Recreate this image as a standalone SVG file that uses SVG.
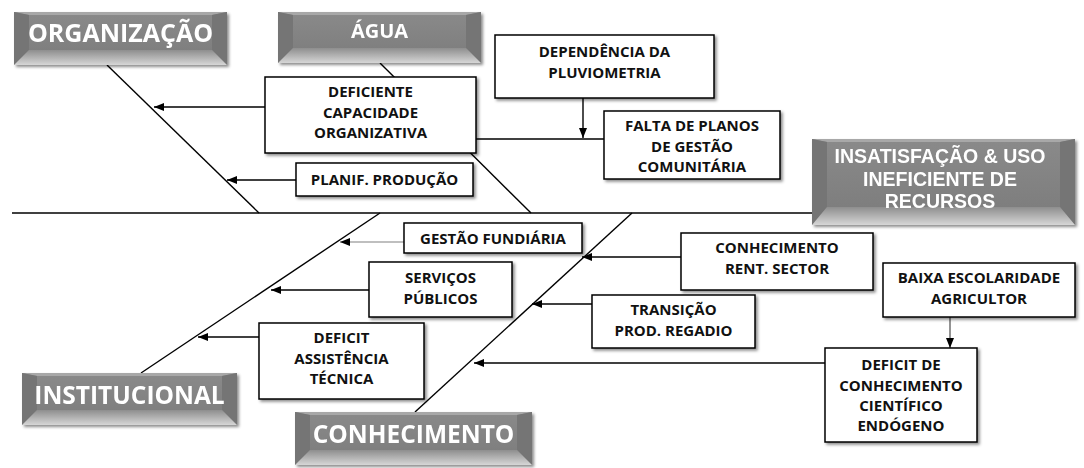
<svg xmlns="http://www.w3.org/2000/svg" width="1084" height="468" viewBox="0 0 1084 468">
<defs>
<style>
.node rect{fill:#fff;stroke:#000;stroke-width:1.5}
.node text{font-family:"Open Sans","Liberation Sans",sans-serif;font-weight:700;font-size:15px;fill:#111;text-anchor:middle}
.cat text{font-family:"Open Sans","Liberation Sans",sans-serif;font-weight:700;fill:#fff;text-anchor:middle}
.cat .c{fill:url(#gCenter)}
.cat .s{fill:#747474}
.cat .t{fill:#a8a8a8}
.cat .b{fill:url(#gBottom)}
.ln{stroke:#000;stroke-width:1.4;fill:none}
.arr{stroke:#000;stroke-width:1.4;fill:none;marker-end:url(#ah)}
</style>
<linearGradient id="gBottom" x1="0" y1="0" x2="0" y2="1"><stop offset="0" stop-color="#8e8e8e"/><stop offset="1" stop-color="#d6d6d6"/></linearGradient>
<linearGradient id="gCenter" x1="0" y1="0" x2="0" y2="1"><stop offset="0" stop-color="#8a8a8a"/><stop offset="1" stop-color="#7b7b7b"/></linearGradient>
<marker id="ah" markerWidth="10" markerHeight="8" refX="10" refY="4" orient="auto" markerUnits="userSpaceOnUse"><path d="M0,0 L10,4 L0,8 z" fill="#000"/></marker>
<filter id="sh" x="-10%" y="-10%" width="130%" height="140%"><feDropShadow dx="2" dy="2" stdDeviation="1.5" flood-color="#000" flood-opacity="0.45"/></filter>
</defs>
<rect width="1084" height="468" fill="#fff"/>

<g id="connectors">
<line class="ln" x1="12" y1="213" x2="812" y2="213"/>
<line class="ln" x1="107" y1="65" x2="259" y2="213"/>
<line class="ln" x1="380" y1="63" x2="531" y2="213"/>
<line class="ln" x1="141" y1="373" x2="380" y2="213"/>
<line class="ln" x1="415" y1="412" x2="632" y2="213"/>
<line class="arr" x1="265" y1="107" x2="154" y2="107"/>
<line class="arr" x1="296" y1="180" x2="227" y2="180"/>
<line class="ln" x1="456" y1="139" x2="604" y2="139"/>
<line class="arr" x1="583" y1="98" x2="583" y2="138"/>
<line class="arr" style="stroke:#aaa" x1="404" y1="242" x2="340" y2="242"/>
<line class="arr" x1="369" y1="290" x2="271" y2="290"/>
<line class="arr" x1="259" y1="337" x2="198" y2="337"/>
<line class="arr" x1="681" y1="257" x2="582" y2="257"/>
<line class="arr" x1="592" y1="304" x2="532" y2="304"/>
<line class="arr" x1="825" y1="363" x2="474" y2="363"/>
<line class="arr" style="stroke:#666" x1="950" y1="317" x2="950" y2="348"/>
</g>

<g id="cat-organizacao" class="cat" filter="url(#sh)">
<rect class="c" x="14" y="12" width="213" height="53"/>
<polygon class="t" points="14,12 227,12 212,15 29,15"/>
<polygon class="s" points="14,12 29,15 29,50 14,65"/>
<polygon class="s" points="227,12 212,15 212,50 227,65"/>
<polygon class="b" points="14,65 29,50 212,50 227,65"/>
<text x="120.5" y="42" font-size="25">ORGANIZAÇÃO</text>
</g>
<g id="cat-agua" class="cat" filter="url(#sh)">
<rect class="c" x="278" y="12" width="203" height="51"/>
<polygon class="t" points="278,12 481,12 466,15 293,15"/>
<polygon class="s" points="278,12 293,15 293,48 278,63"/>
<polygon class="s" points="481,12 466,15 466,48 481,63"/>
<polygon class="b" points="278,63 293,48 466,48 481,63"/>
<text x="379.5" y="38" font-size="20">ÁGUA</text>
</g>
<g id="cat-insatisfacao" class="cat" filter="url(#sh)">
<rect class="c" x="812" y="139" width="263" height="86"/>
<polygon class="t" points="812,139 1075,139 1060,142 827,142"/>
<polygon class="s" points="812,139 827,142 827,207 812,225"/>
<polygon class="s" points="1075,139 1060,142 1060,207 1075,225"/>
<polygon class="b" points="812,225 827,207 1060,207 1075,225"/>
<text x="940" font-size="19.5" style="font-family:'Liberation Sans',Arial,sans-serif"><tspan x="940" y="163">INSATISFAÇÃO &amp; USO</tspan><tspan x="940" y="185.5">INEFICIENTE DE</tspan><tspan x="940" y="208">RECURSOS</tspan></text>
</g>
<g id="cat-institucional" class="cat" filter="url(#sh)">
<rect class="c" x="22" y="373" width="215" height="52"/>
<polygon class="t" points="22,373 237,373 222,376 37,376"/>
<polygon class="s" points="22,373 37,376 37,410 22,425"/>
<polygon class="s" points="237,373 222,376 222,410 237,425"/>
<polygon class="b" points="22,425 37,410 222,410 237,425"/>
<text x="129.5" y="404" font-size="24.5">INSTITUCIONAL</text>
</g>
<g id="cat-conhecimento" class="cat" filter="url(#sh)">
<rect class="c" x="295" y="412" width="237" height="53"/>
<polygon class="t" points="295,412 532,412 517,415 310,415"/>
<polygon class="s" points="295,412 310,415 310,450 295,465"/>
<polygon class="s" points="532,412 517,415 517,450 532,465"/>
<polygon class="b" points="295,465 310,450 517,450 532,465"/>
<text x="413.5" y="443" font-size="24.5">CONHECIMENTO</text>
</g>

<g id="n-deficiente-capacidade" class="node"><rect x="265" y="77" width="211" height="76" filter="url(#sh)"/><text><tspan x="370.5" y="97">DEFICIENTE</tspan><tspan x="370.5" y="118">CAPACIDADE</tspan><tspan x="370.5" y="138">ORGANIZATIVA</tspan></text></g>
<g id="n-planif" class="node"><rect x="296" y="163" width="177" height="33" filter="url(#sh)"/><text x="384.5" y="185">PLANIF. PRODUÇÃO</text></g>
<g id="n-dependencia" class="node"><rect x="495" y="35" width="219" height="63" filter="url(#sh)"/><text><tspan x="604.5" y="57">DEPENDÊNCIA DA</tspan><tspan x="604.5" y="78">PLUVIOMETRIA</tspan></text></g>
<g id="n-falta" class="node"><rect x="604" y="111" width="176" height="68" filter="url(#sh)"/><text><tspan x="692" y="131">FALTA DE PLANOS</tspan><tspan x="692" y="152">DE GESTÃO</tspan><tspan x="692" y="172">COMUNITÁRIA</tspan></text></g>
<g id="n-gestao" class="node"><rect x="404" y="223" width="178" height="30" filter="url(#sh)"/><text x="493" y="244">GESTÃO FUNDIÁRIA</text></g>
<g id="n-servicos" class="node"><rect x="369" y="262" width="143" height="55" filter="url(#sh)"/><text><tspan x="440.5" y="283">SERVIÇOS</tspan><tspan x="440.5" y="304">PÚBLICOS</tspan></text></g>
<g id="n-deficit-assist" class="node"><rect x="259" y="323" width="165" height="76" filter="url(#sh)"/><text><tspan x="341.5" y="343">DEFICIT</tspan><tspan x="341.5" y="364">ASSISTÊNCIA</tspan><tspan x="341.5" y="384">TÉCNICA</tspan></text></g>
<g id="n-conh-rent" class="node"><rect x="681" y="233" width="192" height="57" filter="url(#sh)"/><text><tspan x="777" y="253">CONHECIMENTO</tspan><tspan x="777" y="274">RENT. SECTOR</tspan></text></g>
<g id="n-transicao" class="node"><rect x="592" y="295" width="163" height="53" filter="url(#sh)"/><text><tspan x="673.5" y="315">TRANSIÇÃO</tspan><tspan x="673.5" y="336">PROD. REGADIO</tspan></text></g>
<g id="n-baixa" class="node"><rect x="883" y="263" width="192" height="54" filter="url(#sh)"/><text><tspan x="979" y="283">BAIXA ESCOLARIDADE</tspan><tspan x="979" y="304">AGRICULTOR</tspan></text></g>
<g id="n-deficit-conh" class="node"><rect x="825" y="348" width="152" height="94" filter="url(#sh)"/><text><tspan x="901" y="370">DEFICIT DE</tspan><tspan x="901" y="391">CONHECIMENTO</tspan><tspan x="901" y="411">CIENTÍFICO</tspan><tspan x="901" y="431">ENDÓGENO</tspan></text></g>
</svg>
